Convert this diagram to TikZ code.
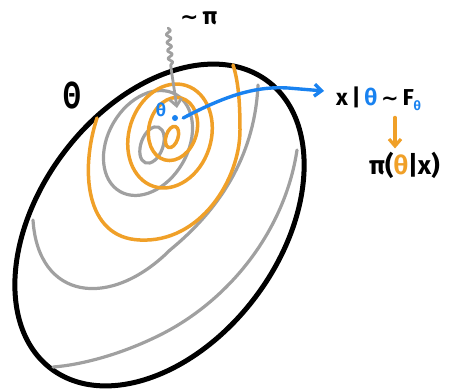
\documentclass[tikz,border=0pt]{standalone}
\usepackage{fontspec}
\setmainfont{Fira Sans}
\newfontfamily\symfont{DejaVu Sans}
\usetikzlibrary{arrows.meta,decorations.pathmorphing}
\definecolor{cOrange}{RGB}{240,160,40}
\definecolor{cBlue}{RGB}{25,130,240}
\definecolor{cGray}{RGB}{160,160,160}
\begin{document}
\begin{tikzpicture}[x=1pt,y=-1pt, line cap=round, line join=round,
  rim/.style={draw=black, line width=5pt},
  graycont/.style={draw=cGray, line width=3.2pt},
  orangecont/.style={draw=cOrange, line width=3.5pt},
  lbl/.style={inner sep=0pt},
  tip/.style={-{Straight Barb[length=7pt,width=12pt]}}]
\useasboundingbox (0,0) rectangle (473,390);
% domain
\draw[rim, rotate around={53:(159.5,225)}] (159.5,225) ellipse [x radius=180, y radius=120];
% prior contours (gray)
\draw[graycont, rotate around={70:(152,145)}] (152,145) ellipse [x radius=19, y radius=11];
\draw[graycont, rotate around={60:(148,143)}] (148,143) ellipse [x radius=56, y radius=40];
\draw[graycont] (33,220) .. controls (38,300) and (110,310) .. (170,250) .. controls (225,205) and (255,150) .. (258,85);
\draw[graycont] (297,150) .. controls (285,230) and (230,300) .. (160,335) .. controls (120,355) and (80,365) .. (53,367);
% posterior contours (orange)
\draw[orangecont, rotate around={72:(172,137)}] (172,137) ellipse [x radius=11, y radius=6];
\draw[orangecont, rotate around={75:(173,129)}] (173,129) ellipse [x radius=32, y radius=24];
\draw[orangecont, rotate around={72:(170,136)}] (170,136) ellipse [x radius=53, y radius=41];
\draw[orangecont] (97,118) .. controls (80,170) and (85,238) .. (140,240) .. controls (200,243) and (240,180) .. (240,130) .. controls (240,100) and (238,80) .. (233,65);
% labels
\node[lbl, font=\bfseries\fontsize{30}{36}\selectfont] (Theta) at (72,96) {\scalebox{0.85}[1.25]{Θ}};
\node[lbl, anchor=base west, font=\bfseries\fontsize{24}{28}\selectfont] (prior) at (180,25) {{\symfont\bfseries\fontsize{22}{24}\selectfont ∼}\,π};
\node[lbl, text=cBlue, font=\bfseries\fontsize{18}{20}\selectfont] (thetalbl) at (161,110) {θ};
\node[circle, fill=cBlue, inner sep=0pt, minimum size=6pt] (thetapt) at (175,118) {};
\node[lbl, anchor=base west, font=\bfseries\fontsize{23}{28}\selectfont] (lik) at (336,106) {x\,|\,\textcolor{cBlue}{θ}\,{\symfont\bfseries\fontsize{21}{24}\selectfont ∼}\,F\textcolor{cBlue}{\raisebox{-5pt}{\fontsize{13}{15}\selectfont θ}}};
\node[lbl, anchor=base west, font=\bfseries\fontsize{26}{30}\selectfont] (post) at (369,175) {π(\textcolor{cOrange}{θ}|x)};
% connectors
\coordinate (sqstart) at (168,28);
\coordinate (kink) at (171,68);
\coordinate (ox) at (395,0);
\draw[cGray, line width=2.8pt, decorate, decoration={snake, amplitude=2.2pt, segment length=8pt}] (sqstart) -- (kink);
\draw[cGray, line width=2.8pt, tip] (kink) -- (177,108);
\draw[cBlue, line width=3.4pt, tip] (thetapt.east) ++(5pt,0) .. controls (225,96) and (255,86) .. (288,88) -- ([xshift=-12pt]lik.west |- 0,91);
\draw[cOrange, line width=3.2pt, tip, shorten <=6pt, shorten >=4pt] (lik.south -| ox) -- (post.north -| ox);
\end{tikzpicture}
\end{document}
